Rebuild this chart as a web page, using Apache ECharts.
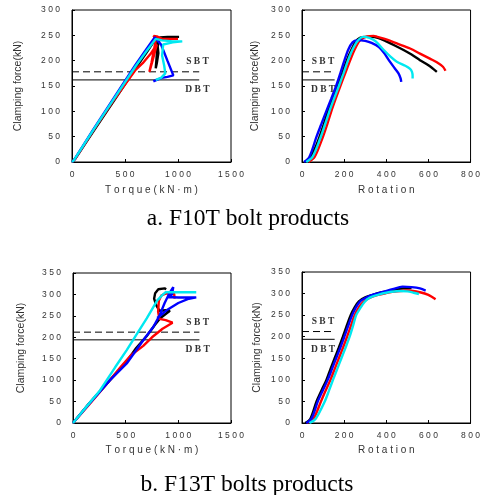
<!DOCTYPE html>
<html><head><meta charset="utf-8">
<script src="https://cdn.jsdelivr.net/npm/echarts@6/dist/echarts.min.js"></script>
<style>html,body{margin:0;padding:0;background:#fff}#c{width:483px;height:495px}</style>
</head><body><div id="c"></div>
<script>
// ---------- data: [x, clamping force kN] ----------
// a. F10T torque (kN·m)
const tq10Black = [[0,0],[30,6],[200,60],[400,122],[600,185],[700,215],[780,240],[800,245],[815,215],[800,195],[790,185],[805,225],[830,246],[900,247],[1010,247]];
const tq10Red   = [[0,0],[30,6],[200,62],[400,124],[600,182],[667,195],[740,213],[800,232],[760,200],[730,178],[750,196],[790,240],[770,249],[800,248],[850,243],[1000,243]];
const tq10Blue  = [[0,0],[20,4],[200,64],[400,128],[600,192],[700,222],[780,246],[840,232],[900,200],[956,171],[900,168],[846,166],[800,162],[767,159]];
const tq10Cyan  = [[0,0],[20,4],[200,63],[400,126],[600,189],[700,218],[790,243],[850,240],[950,238],[1040,238],[1035,235],[950,236],[860,232],[850,210],[870,190],[880,175],[840,166],[790,162]];
// a. F10T rotation
const rt10Black = [[15,0],[40,10],[70,35],[100,70],[122,100],[145,125],[168,150],[190,175],[212,200],[235,222],[255,238],[275,245],[300,247],[330,247],[360,245],[400,238],[440,230],[482,221],[520,212],[560,201],[600,191],[640,178]];
const rt10Red   = [[30,0],[60,10],[95,45],[120,75],[139,100],[160,125],[182,150],[205,175],[228,200],[250,222],[275,240],[310,248],[340,249],[357,247],[400,242],[450,234],[513,224],[560,214],[607,204],[640,197],[669,188],[681,180]];
const rt10Blue  = [[10,0],[35,10],[69,50],[92,75],[115,100],[139,125],[162,150],[182,175],[201,200],[220,222],[240,236],[260,240],[280,240],[300,239],[330,235],[365,227],[390,215],[412,201],[440,185],[458,175],[468,165],[471,158]];
const rt10Cyan  = [[20,0],[50,10],[85,45],[110,75],[130,100],[152,125],[175,150],[197,175],[218,200],[240,222],[262,238],[290,247],[320,245],[350,238],[388,221],[420,208],[450,198],[490,190],[513,184],[522,178],[525,170],[525,165]];
// b. F13T torque (kN·m)
const tq13Black = [[0,0],[150,45],[351,100],[500,140],[600,175],[700,203],[780,230],[830,245],[920,262],[880,263],[820,262],[790,275],[770,290],[780,303],[810,312],[870,314],[885,312]];
const tq13Red   = [[0,0],[150,42],[300,85],[450,130],[550,158],[667,180],[750,200],[850,220],[945,234],[880,240],[820,243],[808,260],[815,285],[840,298],[880,302],[960,302],[975,298],[965,290]];
const tq13Blue  = [[0,0],[150,44],[351,100],[510,139],[667,193],[762,224],[820,250],[870,280],[920,305],[952,317],[965,315],[940,300],[900,294],[1000,293],[1170,293],[1100,290],[1000,280],[900,265],[800,245]];
const tq13Cyan  = [[0,0],[100,30],[256,76],[400,130],[510,170],[589,201],[700,244],[800,286],[850,299],[880,305],[950,305],[1050,305],[1170,305]];
// b. F13T rotation
const rt13Black = [[15,0],[40,10],[69,50],[92,75],[116,100],[135,125],[155,150],[175,175],[194,200],[212,225],[231,250],[250,268],[270,282],[300,291],[336,297],[380,303],[430,308],[480,312],[520,313]];
const rt13Red   = [[25,0],[55,10],[90,50],[112,75],[135,100],[155,125],[175,150],[195,175],[214,200],[232,225],[250,250],[270,268],[290,280],[320,290],[360,297],[399,301],[450,305],[508,307],[560,303],[600,297],[634,287]];
const rt13Blue  = [[20,0],[45,10],[75,50],[98,75],[122,100],[142,125],[162,150],[182,175],[201,200],[219,225],[238,250],[256,268],[276,282],[305,291],[340,298],[380,303],[430,310],[477,316],[520,315],[560,312],[587,307]];
const rt13Cyan  = [[35,0],[65,10],[108,50],[128,75],[147,100],[167,125],[187,150],[207,175],[226,200],[242,225],[257,250],[275,265],[296,280],[320,290],[360,297],[400,302],[461,306],[500,305],[530,302],[555,299]];

// reference lines (SBT dashed, DBT solid)
const sbtF10 = 178, dbtF10 = 162;
const sbtF13 = 212, dbtF13 = 194;
const refLineEndTorque = 1200, refLineEndRotation = 155;

// axes
const torqueMax = 1500, torqueStep = 500;
const rotationMax = 800, rotationStep = 200;
const forceMaxF10 = 300, forceMaxF13 = 350, forceStep = 50;

const xNameTorque = 'Torque(kN·m)';
const xNameRotation = 'Rotation';
const yName = 'Clamping force(kN)';
const captionA = 'a. F10T bolt products';
const captionB = 'b. F13T bolts products';
const labelSBT = 'SBT', labelDBT = 'DBT';

// ---------- chart ----------
const chart = echarts.init(document.getElementById('c'), null, {renderer: 'canvas'});
const spaced = s => String(s).split('').join(' ');
const tickFont = {fontFamily: 'Liberation Sans', fontSize: 8.5, color: '#333'};

const grids = [
  {left: 72, top: 10, width: 159, height: 152},
  {left: 302, top: 10, width: 171, height: 152},
  {left: 73, top: 273, width: 158, height: 150},
  {left: 302, top: 272, width: 170, height: 151}
].map(g => Object.assign(g, {show: true, borderColor: '#000', borderWidth: 1, backgroundColor: 'transparent'}));

function xAxis(i, max, step, name, gap) {
  return {gridIndex: i, type: 'value', min: 0, max: max, interval: step,
    name: spaced(name), nameLocation: 'middle', nameGap: gap,
    nameTextStyle: {fontFamily: 'Liberation Sans', fontSize: 10, color: '#333'},
    axisLine: {show: true, onZero: false, lineStyle: {color: '#000', width: 1}},
    axisTick: {show: true, inside: true, length: 3, lineStyle: {color: '#000'}},
    axisLabel: Object.assign({margin: 8, formatter: v => spaced(v)}, tickFont),
    splitLine: {show: false}};
}
function yAxis(i, max, gap) {
  return {gridIndex: i, type: 'value', min: 0, max: max, interval: forceStep,
    name: yName, nameLocation: 'middle', nameGap: gap, nameRotate: 90,
    nameTextStyle: {fontFamily: 'Liberation Sans', fontSize: 10.5, color: '#333'},
    axisLine: {show: true, onZero: false, lineStyle: {color: '#000', width: 1}},
    axisTick: {show: true, inside: true, length: 3, lineStyle: {color: '#000'}},
    axisLabel: Object.assign({margin: 12, formatter: v => spaced(v)}, tickFont),
    splitLine: {show: false}};
}

const colors = {black: '#000000', red: '#ff0000', blue: '#0000ff', cyan: '#00e8f0'};
function curve(i, data, color, smooth) {
  return {type: 'line', xAxisIndex: i, yAxisIndex: i, data: data, showSymbol: false, symbol: 'none',
    smooth: smooth, lineStyle: {color: color, width: 2.4}, z: 3, silent: true};
}
function refLine(i, val, end, dashed) {
  return {type: 'line', xAxisIndex: i, yAxisIndex: i, data: [[0, val], [end, val]], showSymbol: false, symbol: 'none',
    lineStyle: {color: '#000', width: 1, type: dashed ? [7, 4] : 'solid'}, z: 2, silent: true};
}

const series = [];
const sets = [
  [tq10Black, tq10Red, tq10Blue, tq10Cyan, false],
  [rt10Black, rt10Red, rt10Blue, rt10Cyan, 0.3],
  [tq13Black, tq13Red, tq13Blue, tq13Cyan, false],
  [rt13Black, rt13Red, rt13Blue, rt13Cyan, 0.3]
];
sets.forEach((s, i) => {
  const sbt = i < 2 ? sbtF10 : sbtF13;
  const dbt = i < 2 ? dbtF10 : dbtF13;
  const end = i % 2 === 0 ? refLineEndTorque : refLineEndRotation;
  series.push(refLine(i, sbt, end, true));
  series.push(refLine(i, dbt, end, false));
  series.push(curve(i, s[0], colors.black, s[4]));
  series.push(curve(i, s[1], colors.red, s[4]));
  series.push(curve(i, s[2], colors.blue, s[4]));
  series.push(curve(i, s[3], colors.cyan, s[4]));
});

chart.setOption({
  animation: false,
  backgroundColor: '#fff',
  grid: grids,
  xAxis: [
    xAxis(0, torqueMax, torqueStep, xNameTorque, 23),
    xAxis(1, rotationMax, rotationStep, xNameRotation, 23),
    xAxis(2, torqueMax, torqueStep, xNameTorque, 22),
    xAxis(3, rotationMax, rotationStep, xNameRotation, 22)
  ],
  yAxis: [yAxis(0, forceMaxF10, 48), yAxis(1, forceMaxF10, 41), yAxis(2, forceMaxF13, 46), yAxis(3, forceMaxF13, 39)],
  series: series
});

// SBT / DBT labels placed via data coordinates
const labelX = [1184, 100, 1184, 100];
const graphics = [];
for (let i = 0; i < 4; i++) {
  const sbt = i < 2 ? sbtF10 : sbtF13;
  const dbt = i < 2 ? dbtF10 : dbtF13;
  const p1 = chart.convertToPixel({gridIndex: i}, [labelX[i], sbt]);
  const p2 = chart.convertToPixel({gridIndex: i}, [labelX[i], dbt]);
  const st = {fontFamily: 'Liberation Serif', fontSize: 9.5, fontWeight: 'bold', fill: '#333', align: 'center', verticalAlign: 'middle'};
  graphics.push({type: 'text', x: p1[0], y: p1[1] - 10, style: Object.assign({text: spaced(labelSBT)}, st), z: 10});
  graphics.push({type: 'text', x: p2[0], y: p2[1] + 10, style: Object.assign({text: spaced(labelDBT)}, st), z: 10});
}
const capStyle = {fontFamily: 'Liberation Serif', fontSize: 23.5, fill: '#000', align: 'center', verticalAlign: 'middle'};
graphics.push({type: 'text', x: 248, y: 219, style: Object.assign({text: captionA}, capStyle)});
graphics.push({type: 'text', x: 247, y: 485, style: Object.assign({text: captionB}, capStyle)});
chart.setOption({graphic: graphics});
</script>
</body></html>
